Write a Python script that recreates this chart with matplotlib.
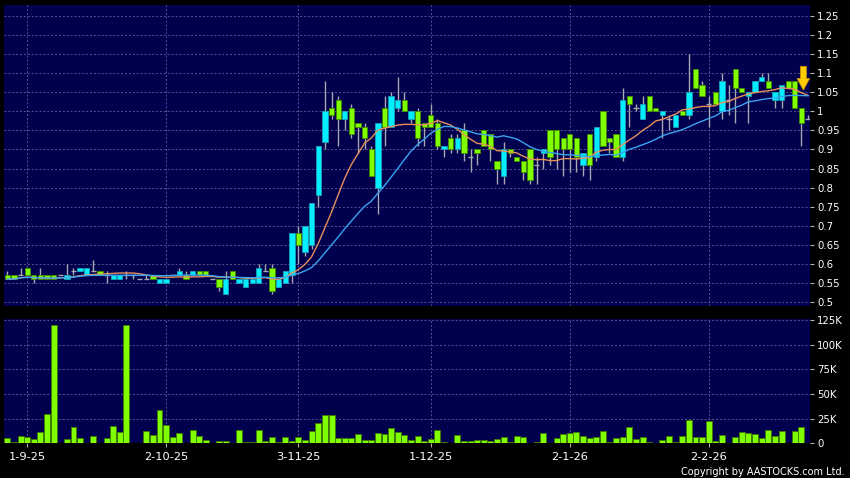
# Import libraries
import numpy as np
import pandas as pd
import matplotlib
matplotlib.use('Agg')
import matplotlib.pyplot as plt

# Date labels on the x axis and the trading day (candle number) they mark
date_labels = ['1-9-25', '2-10-25', '3-11-25', '1-12-25', '2-1-26', '2-2-26']
date_index = [3, 24, 44, 64, 85, 106]

# Daily prices, one value per trading day
opens = [.57, .57, .57, .59, .57, .57, .57, .57, .57, .56,
         .58, .58, .57, .58, .58, .57, .56, .56, .57, .57,
         .56, .56, .57, .55, .55, .57, .57, .57, .57, .58,
         .58, .56, .56, .52, .58, .55, .54, .55, .55, .58,
         .59, .54, .55, .57, .68, .63, .65, .78, .92, 1.01,
         1.03, .98, 1.01, .97, .96, .90, .80, 1.01, .96, 1.01,
         1.03, .98, 1.00, .97, .99, .97, .90, .93, .90, .95,
         .88, .90, .95, .94, .87, .83, .90, .88, .87, .90,
         .86, .89, .95, .95, .93, .94, .93, .86, .94, .88,
         1.00, .93, .94, .88, 1.04, 1.01, .98, 1.04, 1.01, .99,
         .98, .96, 1.00, .99, 1.11, 1.07, 1.02, 1.05, 1.00, 1.03,
         1.11, 1.06, 1.04, 1.05, 1.08, 1.08, 1.03, 1.03, 1.08, 1.08,
         1.01, .98]
highs = [.58, .57, .59, .59, .57, .59, .57, .57, .57, .60,
         .59, .59, .59, .61, .58, .58, .57, .57, .58, .57,
         .56, .57, .57, .56, .56, .57, .59, .58, .58, .58,
         .58, .56, .56, .58, .58, .56, .56, .56, .60, .60,
         .60, .56, .58, .68, .70, .70, .76, .91, 1.08, 1.05,
         1.04, 1.00, 1.02, .97, .97, .91, .97, 1.04, 1.05, 1.09,
         1.05, 1.00, 1.01, .97, 1.02, .98, .91, .94, .94, .97,
         .90, .90, .95, .94, .87, .92, .90, .88, .87, .90,
         .88, .90, .95, .95, .93, .94, .93, .89, .94, .96,
         1.00, .93, .94, 1.06, 1.04, 1.02, 1.04, 1.04, 1.01, 1.00,
         .99, .99, 1.00, 1.15, 1.11, 1.08, 1.04, 1.05, 1.10, 1.07,
         1.11, 1.06, 1.05, 1.08, 1.10, 1.10, 1.05, 1.07, 1.08, 1.08,
         1.01, .99]
lows = [.56, .56, .57, .57, .55, .56, .56, .56, .57, .56,
        .57, .58, .57, .58, .57, .55, .56, .56, .56, .56,
        .56, .56, .56, .55, .55, .57, .57, .56, .57, .57,
        .57, .56, .53, .52, .56, .55, .54, .55, .55, .58,
        .52, .54, .55, .55, .60, .62, .64, .75, .90, .98,
        .91, .95, .93, .89, .90, .83, .73, .91, .96, 1.00,
        1.00, .97, .91, .91, .96, .90, .88, .89, .89, .87,
        .84, .86, .91, .87, .81, .81, .88, .87, .82, .81,
        .81, .85, .86, .85, .83, .84, .84, .83, .82, .87,
        .91, .89, .88, .87, .96, 1.00, .98, 1.00, 1.00, .93,
        .95, .96, .99, .98, 1.06, 1.04, .96, 1.02, .98, .99,
        .97, 1.05, .97, 1.05, 1.08, 1.06, 1.01, 1.01, 1.06, 1.01,
        .91, .98]
closes = [.56, .56, .57, .57, .56, .56, .56, .56, .57, .57,
          .58, .59, .59, .58, .57, .57, .57, .57, .57, .57,
          .56, .56, .56, .56, .56, .57, .58, .56, .58, .57,
          .57, .56, .54, .56, .56, .56, .56, .56, .59, .58,
          .53, .56, .58, .68, .65, .70, .76, .91, 1.00, .99,
          .98, 1.00, .94, .96, .93, .83, .97, .96, 1.04, 1.03,
          1.00, 1.00, .93, .96, .96, .91, .91, .90, .93, .89,
          .88, .89, .91, .90, .85, .90, .89, .87, .84, .82,
          .86, .90, .88, .90, .90, .90, .88, .89, .86, .96,
          .91, .92, .88, 1.03, 1.02, 1.01, 1.02, 1.00, 1.00, 1.00,
          .98, .99, .99, 1.05, 1.06, 1.04, 1.02, 1.02, 1.08, 1.03,
          1.06, 1.05, 1.05, 1.08, 1.09, 1.06, 1.05, 1.07, 1.06, 1.01,
          .97, .98]
# Daily volume in thousands of shares
volumes = [5.1, 1.0, 7.5, 6.1, 4.7, 11.2, 29.5, 120, 0, 4.0,
           16.6, 5.4, 0.3, 7.1, 0.7, 5.1, 17.3, 11.2, 120, 0,
           0, 12.5, 8.8, 33.9, 18.6, 6.8, 10.2, 0.7, 13.9, 7.5,
           3.4, 0, 2.0, 2.7, 0.3, 13.9, 1.4, 1.0, 13.9, 2.4,
           6.8, 1.4, 6.8, 2.4, 6.8, 3.4, 12.2, 20.3, 28.5, 29.1,
           5.4, 5.8, 5.4, 9.1, 3.7, 3.4, 10.2, 9.5, 15.9, 11.5,
           8.1, 3.4, 7.8, 2.0, 4.0, 13.5, 1.0, 0.5, 8.8, 2.0,
           2.0, 3.4, 3.4, 2.0, 4.7, 6.8, 1.4, 7.1, 6.4, 0.3,
           1.4, 10.5, 0.3, 5.1, 9.5, 10.5, 11.5, 7.8, 5.4, 6.1,
           12.9, 1.7, 5.4, 6.4, 16.3, 4.0, 6.8, 1.7, 0.7, 3.7,
           7.5, 1.7, 7.1, 23.4, 6.8, 6.1, 22.7, 2.0, 8.8, 0.3,
           6.8, 11.2, 10.2, 9.1, 5.1, 13.2, 7.1, 12.2, 0.7, 12.5,
           16.3, 0]

# Axis ticks
price_ticks = [0.5, 0.55, 0.6, 0.65, 0.7, 0.75, 0.8, 0.85, 0.9, 0.95,
               1.0, 1.05, 1.1, 1.15, 1.2, 1.25]
volume_ticks = [0, 25, 50, 75, 100, 125]
volume_tick_labels = ['0', '25K', '50K', '75K', '100K', '125K']

# Sell signal arrow at the end of the chart
signal_index = 120.3
signal_top = 1.118
signal_tip = 1.056

# Put everything in a DataFrame and add the moving averages
df = pd.DataFrame({'open': opens, 'high': highs, 'low': lows,
                   'close': closes, 'volume': volumes})
df['ma10'] = df['close'].rolling(10, min_periods=1).mean()
df['ma20'] = df['close'].rolling(20, min_periods=1).mean()
x = np.arange(len(df))

up = (df['close'] > df['open']).values
down = (df['close'] < df['open']).values
flat = (df['close'] == df['open']).values

# Colours
bg = '#00004e'
grid_col = '#55558c'
wick_col = '#a8a8b0'
cyan = '#00eeff'
lime = '#80ff00'

fig = plt.figure(figsize=(8.5, 4.78), dpi=100, facecolor='black')
ax = fig.add_axes([4 / 850, 1 - 306 / 478, 806 / 850, 301 / 478], facecolor=bg)
axv = fig.add_axes([4 / 850, 1 - 443.3 / 478, 806 / 850, 124.3 / 478], facecolor=bg)

# Candles: wicks, up bodies, down bodies and flat days
ax.vlines(x, df['low'], df['high'], color=wick_col, linewidth=1, zorder=2)
ax.bar(x[up], (df['close'] - df['open'])[up], bottom=df['open'][up], width=0.8,
       color=cyan, edgecolor='#1aa0b4', linewidth=0.6, zorder=3)
ax.bar(x[down], (df['open'] - df['close'])[down], bottom=df['close'][down], width=0.8,
       color=lime, edgecolor='#3f8a00', linewidth=0.6, zorder=3)
ax.hlines(df['close'][flat], x[flat] - 0.4, x[flat] + 0.4, color=wick_col, linewidth=1, zorder=3)

# Moving averages
ax.plot(x, df['ma10'], color='#e8905c', linewidth=1, zorder=4)
ax.plot(x, df['ma20'], color='#3aa4f0', linewidth=1, zorder=4)

# Yellow down arrow
ax.arrow(signal_index, signal_top, 0, signal_tip - signal_top, width=0.9, head_width=1.9,
         head_length=0.03, length_includes_head=True, facecolor='#ffcc00',
         edgecolor='#c89000', linewidth=0.6, zorder=5)

# Volume bars
axv.bar(x, df['volume'], width=0.9, color=lime, edgecolor='#3f7a00', linewidth=0.6, zorder=3)

# Limits
ax.set_xlim(-0.5, 121.3)
axv.set_xlim(-0.5, 121.3)
ax.set_ylim(0.4895, 1.279)
axv.set_ylim(0, 126.3)

# Grid and ticks for the price panel
ax.set_xticks(date_index)
ax.set_yticks(price_ticks)
ax.set_yticklabels(['%g' % t for t in price_ticks])
ax.yaxis.tick_right()
ax.tick_params(axis='x', length=0, labelbottom=False)
ax.tick_params(axis='y', colors='#b0b0b0', labelcolor='white', length=3,
               width=0.8, labelsize=7.3, pad=2)
ax.grid(True, color=grid_col, linestyle=(0, (2, 2)), linewidth=0.7)
ax.set_axisbelow(True)

# Grid and ticks for the volume panel
axv.set_xticks(date_index)
axv.set_xticklabels(date_labels)
axv.set_yticks(volume_ticks)
axv.set_yticklabels(volume_tick_labels)
axv.yaxis.tick_right()
axv.tick_params(axis='x', colors='#b0b0b0', labelcolor='white', length=3,
                width=0.8, labelsize=8.2, pad=3)
axv.tick_params(axis='y', colors='#b0b0b0', labelcolor='white', length=3,
                width=0.8, labelsize=7.3, pad=2)
axv.grid(True, color=grid_col, linestyle=(0, (2, 2)), linewidth=0.7)
axv.set_axisbelow(True)

for a in (ax, axv):
    for s in a.spines.values():
        s.set_visible(False)

fig.text(845 / 850, 1 - 472 / 478, 'Copyright by AASTOCKS.com Ltd.', ha='right',
         va='center', fontsize=7, color='white')

fig.savefig('out.png', dpi=100, facecolor='black')
